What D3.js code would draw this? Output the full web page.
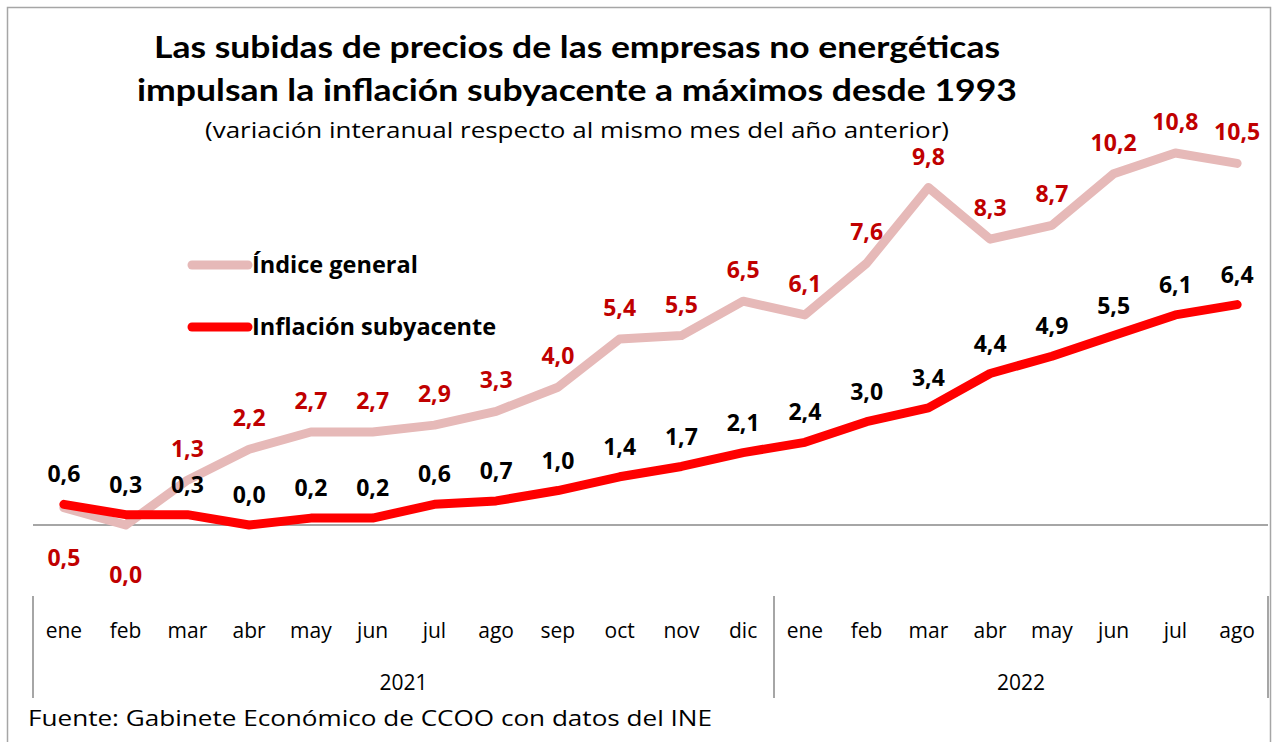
<!DOCTYPE html>
<html>
<head>
<meta charset="utf-8">
<script src="https://cdn.jsdelivr.net/npm/d3@7"></script>
<style>
  body { margin: 0; background: #fff; }
  text { font-family: "Open Sans", Lato, sans-serif; }
</style>
</head>
<body>
<div id="chart"></div>
<script>
// Datos
const months = ["ene", "feb", "mar", "abr", "may", "jun", "jul", "ago", "sep", "oct", "nov", "dic",
                "ene", "feb", "mar", "abr", "may", "jun", "jul", "ago"];
const yearLabels = ["2021", "2022"];
const monthsPerYear = [12, 8];
const indiceGeneral = [0.5, 0.0, 1.3, 2.2, 2.7, 2.7, 2.9, 3.3, 4.0, 5.4, 5.5, 6.5,
                       6.1, 7.6, 9.8, 8.3, 8.7, 10.2, 10.8, 10.5];
const subyacente = [0.6, 0.3, 0.3, 0.0, 0.2, 0.2, 0.6, 0.7, 1.0, 1.4, 1.7, 2.1,
                    2.4, 3.0, 3.4, 4.4, 4.9, 5.5, 6.1, 6.4];
const seriesNames = ["Índice general", "Inflación subyacente"];

const width = 1273;
const height = 742;
const plot = { left: 33, right: 1268, zero: 525 };

const colorGeneral = "#e6b9b8";
const colorSub = "#ff0000";
const colorLabelGeneral = "#c00000";
const font = "'Open Sans', Lato, sans-serif";

const svg = d3.select("#chart")
    .append("svg")
    .attr("width", width)
    .attr("height", height);

// Marco
svg.append("rect")
    .attr("x", 7.5).attr("y", 7.5)
    .attr("width", 1263).attr("height", 760)
    .attr("fill", "none")
    .attr("stroke", "#a6a6a6")
    .attr("stroke-width", 1.5);

// Escalas
const x = d3.scaleBand()
    .domain(d3.range(months.length))
    .range([plot.left, plot.right])
    .padding(0);

const y = d3.scaleLinear()
    .domain([0, 12])
    .range([plot.zero, plot.zero - 12 * 34.44]);

const cx = i => x(i) + x.bandwidth() / 2;
const fmt = v => v.toFixed(1).replace(".", ",");

// Eje horizontal (línea del cero)
svg.append("line")
    .attr("x1", plot.left).attr("x2", plot.right)
    .attr("y1", y(0)).attr("y2", y(0))
    .attr("stroke", "#a6a6a6")
    .attr("stroke-width", 2);

// Etiquetas de meses
const xAxis = svg.append("g")
    .attr("transform", "translate(0,631)")
    .call(d3.axisBottom(x).tickSize(0).tickFormat(i => months[i]));
xAxis.select(".domain").remove();
xAxis.selectAll("text")
    .attr("y", 0)
    .attr("dy", "0.35em")
    .style("font-size", "21px")
    .style("font-family", font)
    .attr("fill", "#000");

// Separadores de años y etiquetas de años
let start = 0;
const bounds = [plot.left];
yearLabels.forEach((yr, k) => {
    const end = start + monthsPerYear[k] - 1;
    const x0 = x(start);
    const x1 = x(end) + x.bandwidth();
    bounds.push(x1);
    svg.append("text")
        .attr("x", (x0 + x1) / 2)
        .attr("y", 683)
        .attr("dy", "0.35em")
        .attr("text-anchor", "middle")
        .style("font-size", "21px")
        .text(yr);
    start = end + 1;
});
bounds.forEach(bx => {
    svg.append("line")
        .attr("x1", bx).attr("x2", bx)
        .attr("y1", 596).attr("y2", 698)
        .attr("stroke", "#a6a6a6")
        .attr("stroke-width", 2);
});

// Líneas
const line = d3.line()
    .x((d, i) => cx(i))
    .y(d => y(d));

svg.append("path")
    .datum(indiceGeneral)
    .attr("d", line)
    .attr("fill", "none")
    .attr("stroke", colorGeneral)
    .attr("stroke-width", 9)
    .attr("stroke-linecap", "round")
    .attr("stroke-linejoin", "round");

svg.append("path")
    .datum(subyacente)
    .attr("d", line)
    .attr("fill", "none")
    .attr("stroke", colorSub)
    .attr("stroke-width", 9)
    .attr("stroke-linecap", "round")
    .attr("stroke-linejoin", "round");

// Etiquetas de datos: índice general (debajo si queda por debajo de la subyacente)
svg.selectAll(".lab-gen")
    .data(indiceGeneral)
    .enter()
    .append("text")
    .attr("class", "lab-gen")
    .attr("x", (d, i) => cx(i))
    .attr("y", (d, i) => d < subyacente[i] ? y(d) + 50 : y(d) - 31)
    .attr("dy", "0.35em")
    .attr("text-anchor", "middle")
    .style("font-size", "23px")
    .style("font-weight", "bold")
    .attr("fill", colorLabelGeneral)
    .text(fmt);

// Etiquetas de datos: subyacente
svg.selectAll(".lab-sub")
    .data(subyacente)
    .enter()
    .append("text")
    .attr("class", "lab-sub")
    .attr("x", (d, i) => cx(i))
    .attr("y", d => y(d) - 30)
    .attr("dy", "0.35em")
    .attr("text-anchor", "middle")
    .style("font-size", "23px")
    .style("font-weight", "bold")
    .attr("fill", "#000")
    .text(fmt);

// Leyenda
const legend = svg.append("g").attr("transform", "translate(192,265)");
[colorGeneral, colorSub].forEach((c, i) => {
    legend.append("line")
        .attr("x1", 0).attr("x2", 56)
        .attr("y1", i * 62).attr("y2", i * 62)
        .attr("stroke", c)
        .attr("stroke-width", 9)
        .attr("stroke-linecap", "round");
    legend.append("text")
        .attr("x", 60)
        .attr("y", i * 62)
        .attr("dy", "0.35em")
        .style("font-size", "23.5px")
        .style("font-weight", "bold")
        .text(seriesNames[i]);
});

// Título
const titleFont = "Lato, 'Open Sans', sans-serif";
svg.append("text")
    .attr("x", 577).attr("y", 58)
    .attr("text-anchor", "middle")
    .attr("textLength", 846)
    .attr("lengthAdjust", "spacingAndGlyphs")
    .style("font-family", titleFont)
    .style("font-size", "31px")
    .style("font-weight", "bold")
    .text("Las subidas de precios de las empresas no energéticas");

svg.append("text")
    .attr("x", 577).attr("y", 101)
    .attr("text-anchor", "middle")
    .attr("textLength", 880)
    .attr("lengthAdjust", "spacingAndGlyphs")
    .style("font-family", titleFont)
    .style("font-size", "31px")
    .style("font-weight", "bold")
    .text("impulsan la inflación subyacente a máximos desde 1993");

svg.append("text")
    .attr("x", 577).attr("y", 138)
    .attr("text-anchor", "middle")
    .attr("textLength", 744)
    .attr("lengthAdjust", "spacingAndGlyphs")
    .style("font-size", "22px")
    .text("(variación interanual respecto al mismo mes del año anterior)");

// Fuente
svg.append("text")
    .attr("x", 28).attr("y", 726)
    .attr("textLength", 684)
    .attr("lengthAdjust", "spacingAndGlyphs")
    .style("font-size", "22px")
    .text("Fuente: Gabinete Económico de CCOO con datos del INE");
</script>
</body>
</html>
